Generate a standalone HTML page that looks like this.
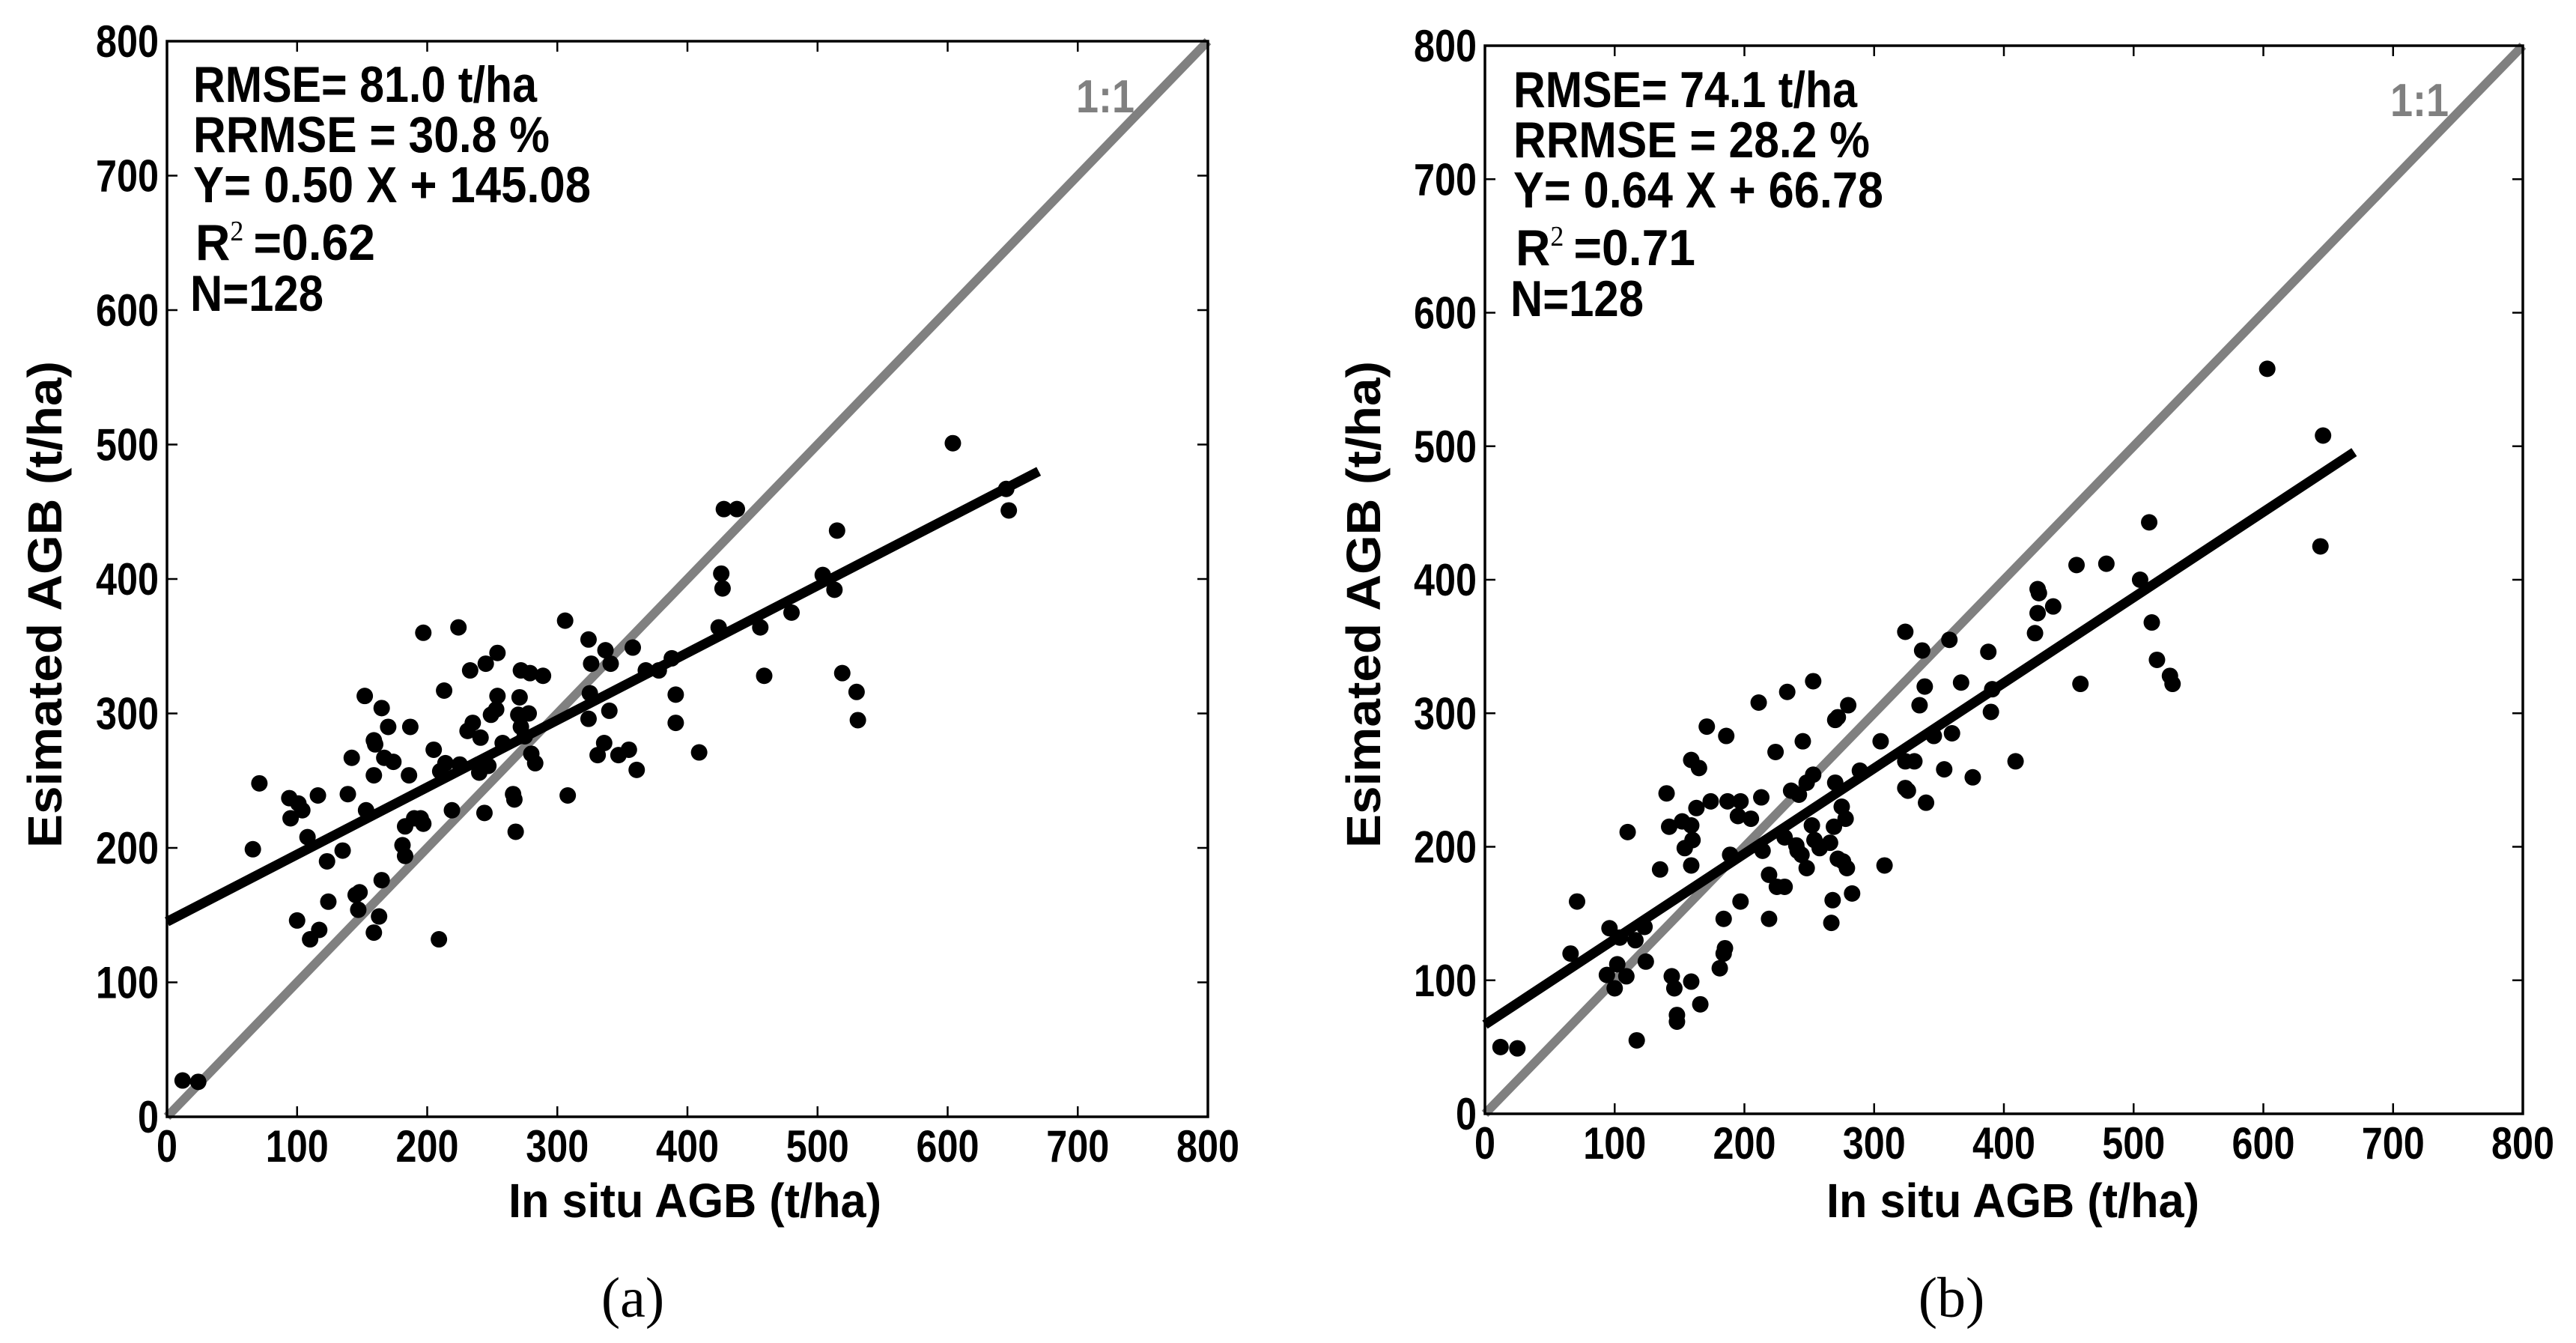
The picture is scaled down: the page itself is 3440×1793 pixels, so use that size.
<!DOCTYPE html>
<html><head><meta charset="utf-8"><style>
html,body{margin:0;padding:0;background:#fff;}
svg{display:block;}
text{font-family:"Liberation Sans",Arial,sans-serif;font-weight:bold;}
</style></head><body>
<svg id="fig" width="3440" height="1793" viewBox="0 0 3440 1793" xmlns="http://www.w3.org/2000/svg"></svg>
<script>
const ticks = [0,100,200,300,400,500,600,700,800];
const tickLabels = ["0","100","200","300","400","500","600","700","800"];
const lineXEnd = 670;
const slopeA = 0.50, interceptA = 145.08;
const slopeB = 0.64, interceptB = 66.78;
const statsA = ["RMSE= 81.0 t/ha","RRMSE = 30.8 %","Y= 0.50 X + 145.08","=0.62","N=128"];
const statsB = ["RMSE= 74.1 t/ha","RRMSE = 28.2 %","Y= 0.64 X + 66.78","=0.71","N=128"];
const xA = [12,24,66,71,94,95,101,104,108,116,100,110,117,123,124,135,139,142,145,148,147,152,153,159,159,159,160,163,165,165,167,170,174,181,183,183,186,187,190,195,197,197,205,209,210,213,214,219,224,225,231,233,235,240,241,244,245,247,249,253,254,254,258,266,267,268,270,271,272,272,275,278,279,280,283,289,306,308,324,324,325,326,331,336,337,340,341,347,355,358,361,368,378,388,391,391,409,424,426,427,428,438,456,459,480,504,513,515,519,530,531,604,645,647];
const yA = [27,26,199,248,237,222,233,228,208,239,146,132,139,190,160,198,240,267,165,167,154,313,228,137,254,280,277,149,176,304,267,290,264,202,194,216,254,290,222,222,218,360,273,132,257,317,263,228,364,262,287,332,293,256,282,226,337,261,299,303,313,345,278,240,236,212,299,312,332,290,283,300,330,270,263,328,369,239,355,296,315,337,269,278,347,302,337,269,273,349,258,332,332,341,314,293,271,364,404,393,452,452,364,328,375,403,392,436,330,316,295,501,467,451];
const xB = [12,25,66,71,96,94,100,102,104,109,110,116,117,123,124,135,140,142,144,146,148,148,152,154,159,159,159,160,159,163,165,166,171,174,181,184,185,184,186,187,189,195,197,197,205,211,213,214,219,219,224,225,231,231,233,236,240,241,242,244,245,248,248,252,253,253,254,258,266,267,268,269,270,270,272,272,275,276,278,279,280,283,289,305,308,324,324,324,326,331,335,337,339,340,346,354,358,360,367,376,388,391,390,409,424,426,427,426,438,456,459,479,505,512,514,518,528,530,603,646,644];
const yB = [50,49,120,159,139,104,94,112,132,103,211,130,55,140,114,183,240,215,103,94,74,69,219,199,265,186,216,205,99,229,259,82,290,234,109,120,124,146,283,234,194,223,234,159,221,308,237,197,179,146,271,170,207,170,316,242,201,197,239,194,279,184,248,216,324,254,205,199,203,143,160,215,248,295,191,297,230,189,221,184,306,165,257,279,186,264,244,361,242,264,306,347,320,233,283,258,355,285,323,252,346,318,301,264,360,393,390,375,380,411,322,412,400,443,368,340,328,322,558,508,425];

const NS = "http://www.w3.org/2000/svg";
const svg = document.getElementById('fig');
function mk(tag, attrs, parent){const e=document.createElementNS(NS,tag);for(const k in attrs)e.setAttribute(k,attrs[k]);(parent||svg).appendChild(e);return e;}

function panel(cfg){
  const g = mk('g',{});
  
  
  const L=cfg.L,R=cfg.R,T=cfg.T,B=cfg.B;
  const sx=v=>L+(R-L)*v/800, sy=v=>B-(B-T)*v/800;
  ticks.forEach((t,i)=>{
    const tx=sx(t), ty=sy(t);
    const a=mk('path',{d:`M${tx},${B}v-14M${tx},${T}v14M${L},${ty}h14M${R},${ty}h-14`,stroke:'#000','stroke-width':2.5,fill:'none'},g);
    
    
    const w = tickLabels[i].length*28;
    const xl=mk('text',{x:tx,y:B+60,'text-anchor':'middle','font-size':60,textLength:w,lengthAdjust:'spacingAndGlyphs'},g);
    xl.textContent=tickLabels[i];
    
    
    const yl=mk('text',{x:L-11,y:ty+21,'text-anchor':'end','font-size':60,textLength:w,lengthAdjust:'spacingAndGlyphs'},g);
    yl.textContent=tickLabels[i];
    
    
  });
  const one=mk('line',{x1:sx(0),y1:sy(0),x2:sx(800),y2:sy(800),stroke:'#808080','stroke-width':12},g);
  
  
  cfg.xs.forEach((x,i)=>{
    const c=mk('circle',{cx:sx(x),cy:sy(cfg.ys[i]),r:11,fill:'#000'},g);
    
    
  });
  const rg=mk('line',{x1:sx(0),y1:sy(cfg.b),x2:sx(lineXEnd),y2:sy(cfg.m*lineXEnd+cfg.b),stroke:'#000','stroke-width':13},g);
  
  
  const fr=mk('rect',{x:L,y:T,width:R-L,height:B-T,fill:'none',stroke:'#000','stroke-width':3.5},g);
  
  
  const lens=cfg.lens, bases=[136,203,270,347,415], xs=[0,0,0,3,-4];
  cfg.stats.forEach((s,i)=>{
    const t=mk('text',{x:cfg.tx+xs[i],y:bases[i]+cfg.dy,'font-size':68},g);
    
    
    if(i===3){
      const r=mk('tspan',{},t);r.textContent='R';
      const sp=mk('tspan',{dy:-26,'font-size':38,style:'font-family:"Liberation Serif",serif;font-weight:normal'},t);sp.textContent='2';
      const rest=mk('tspan',{dy:26,dx:14},t);rest.textContent=s;
    } else {
      t.textContent=s;
    }
    t.setAttribute('textLength',lens[i]);t.setAttribute('lengthAdjust','spacingAndGlyphs');
  });
  const ol=mk('text',{x:cfg.oneX,y:cfg.oneY,'font-size':62,fill:'#808080',textLength:78,lengthAdjust:'spacingAndGlyphs'},g);
  ol.textContent='1:1';
  
  
  const xt=mk('text',{x:cfg.xtX,y:1625,'text-anchor':'middle','font-size':64,textLength:498,lengthAdjust:'spacingAndGlyphs'},g);
  xt.textContent='In situ AGB (t/ha)';
  
  
  const yt=mk('text',{x:0,y:0,'text-anchor':'middle','font-size':64,textLength:650,lengthAdjust:'spacingAndGlyphs',transform:`translate(${cfg.ytX},807) rotate(-90)`},g);
  yt.textContent='Esimated AGB (t/ha)';
  
  
  const pl=mk('text',{x:cfg.plX,y:1758,'text-anchor':'middle','font-size':76},g);
  pl.setAttribute('style','font-family:"Liberation Serif",serif;font-weight:normal');
  pl.textContent=cfg.label;
  
  
}
panel({name:'panel-a',L:223,R:1613,T:55,B:1491,xs:xA,ys:yA,m:slopeA,b:interceptA,stats:statsA,lens:[459,476,531,240,178],tx:258,dy:0,oneX:1437,oneY:150,xtX:928,ytX:82,plX:845,label:'(a)'});
panel({name:'panel-b',L:1983,R:3369,T:61,B:1487,xs:xB,ys:yB,m:slopeB,b:interceptB,stats:statsB,lens:[459,476,494,240,178],tx:2021,dy:7,oneX:3192,oneY:155,xtX:2688,ytX:1843,plX:2606,label:'(b)'});
</script>
</body></html>
